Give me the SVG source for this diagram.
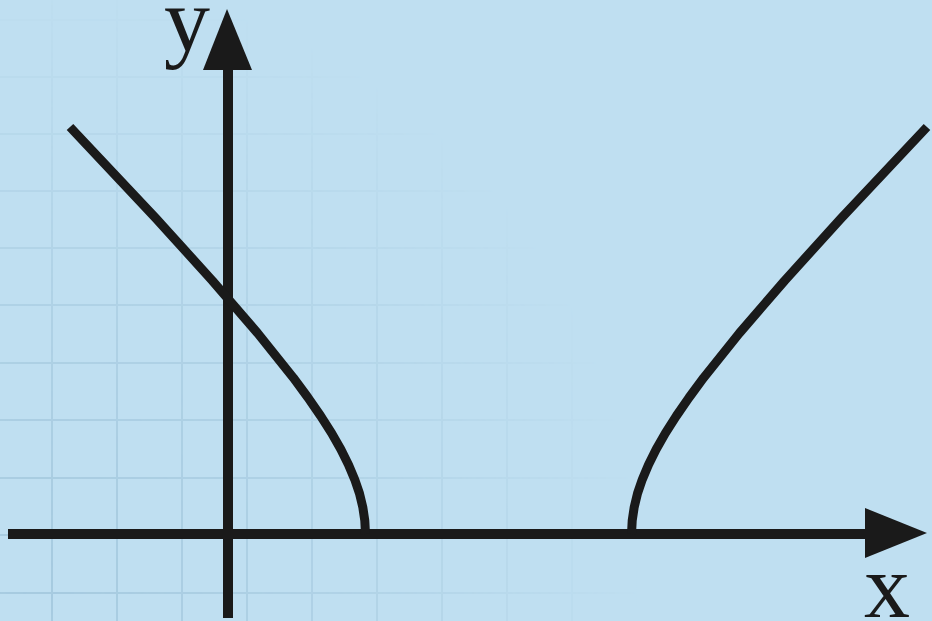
<svg xmlns="http://www.w3.org/2000/svg" width="932" height="621" viewBox="0 0 932 621">
<style>
.grid{stroke:#a6cadf;stroke-width:2;fill:none}
.axis{stroke:#1a1a1a;stroke-width:10;fill:none}
.curve{stroke:#1a1a1a;stroke-width:9;fill:none;stroke-linejoin:round;stroke-linecap:butt}
.head{fill:#1a1a1a}
.lbl{font-family:"Liberation Serif","Times New Roman",serif;font-size:92px;fill:#1a1a1a}
</style>
<defs>
<radialGradient id="fade" gradientUnits="userSpaceOnUse" cx="40" cy="580" r="600">
<stop offset="0" stop-color="#fff" stop-opacity="1"/>
<stop offset="0.5" stop-color="#fff" stop-opacity="0.6"/>
<stop offset="1" stop-color="#fff" stop-opacity="0"/>
</radialGradient>
<mask id="gm" maskUnits="userSpaceOnUse" x="0" y="0" width="932" height="621">
<rect x="0" y="0" width="932" height="621" fill="url(#fade)"/>
</mask>
</defs>
<rect x="0" y="0" width="932" height="621" fill="#bfdff1"/>
<g id="grid" class="grid" mask="url(#gm)">
<path d="M52 0V621M117 0V621M182 0V621M247 0V621M312 0V621M377 0V621M442 0V621M507 0V621M572 0V621M637 0V621M702 0V621"/>
<path d="M0 20H932M0 77H932M0 134H932M0 191H932M0 248H932M0 305H932M0 363H932M0 420H932M0 478H932M0 535H932M0 593H932"/>
</g>
<g id="connectors">
<g id="x-axis">
<line class="axis" x1="8" y1="534" x2="868" y2="534"/>
<polygon class="head" points="865,508 927,533 865,558"/>
</g>
<g id="y-axis">
<line class="axis" x1="228" y1="618" x2="228" y2="66"/>
<polygon class="head" points="203,70 227,9 252,70"/>
</g>
</g>
<g id="curve-left">
<path class="curve" d="M70,127 L155.7,218.1 L212.4,280.7 L257.7,333.2 L293.3,377.7 L307.9,397.5 L320.6,415.9 L331.6,433.1 L340.8,449.3 L348.5,464.7 L354.7,479.4 L359.5,493.5 L362.8,507.2 L364.8,520.7 L365.5,534"/>
</g>
<g id="curve-right">
<path class="curve" d="M927,127 L841.3,218.1 L784.6,280.7 L739.3,333.2 L703.7,377.7 L689.1,397.5 L676.4,415.9 L665.4,433.1 L656.2,449.3 L648.5,464.7 L642.3,479.4 L637.5,493.5 L634.2,507.2 L632.2,520.7 L631.5,534"/>
</g>
<g id="label-y"><text class="lbl" x="164" y="51">y</text></g>
<g id="label-x"><text class="lbl" x="864" y="617">x</text></g>
</svg>
